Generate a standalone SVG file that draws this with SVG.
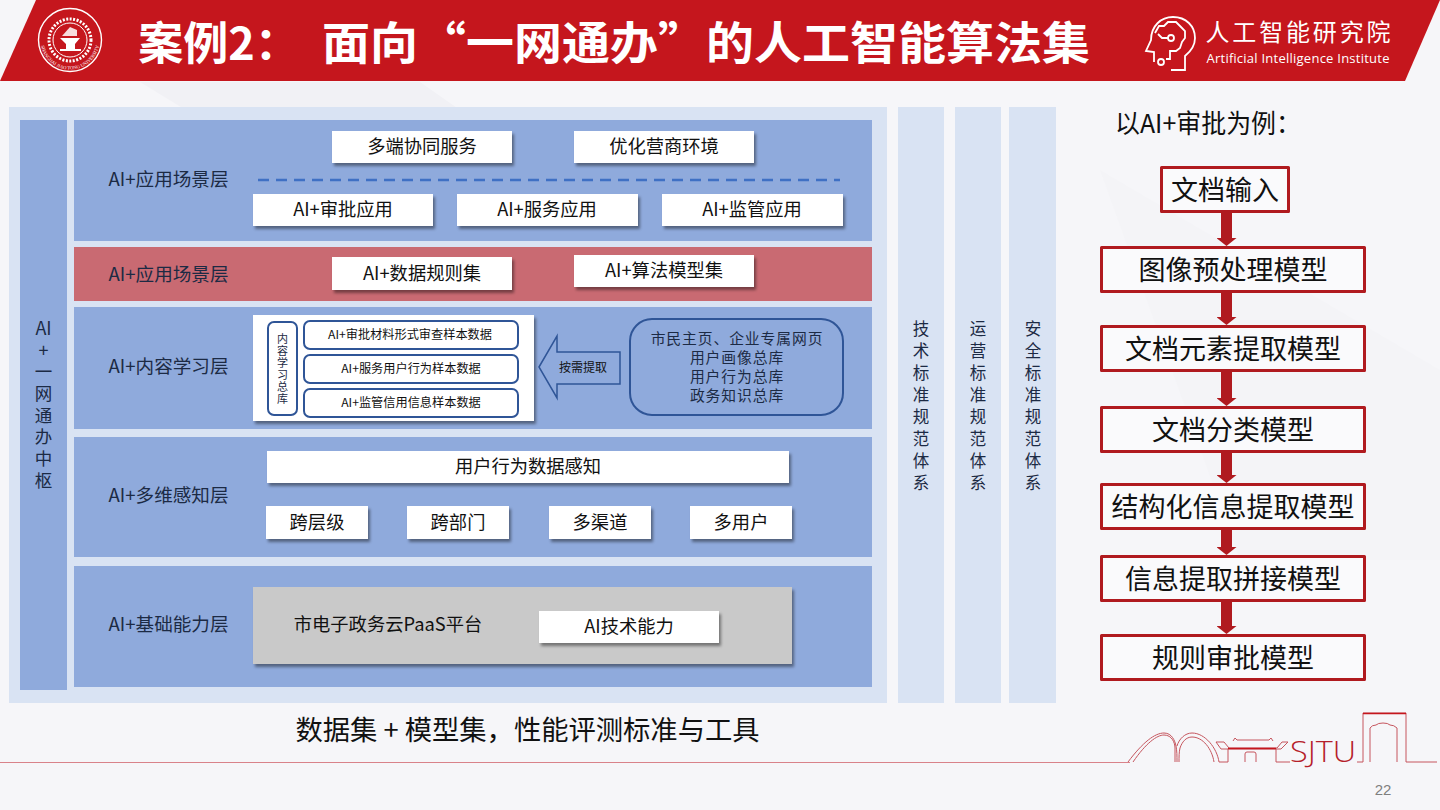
<svg xmlns="http://www.w3.org/2000/svg" width="1440" height="810" viewBox="0 0 1440 810">
<defs>
<filter id="sh" x="-10%" y="-20%" width="120%" height="150%"><feDropShadow dx="2" dy="3" stdDeviation="1.5" flood-color="#000" flood-opacity="0.42"/></filter>
<marker id="ah" markerUnits="userSpaceOnUse" markerWidth="8" markerHeight="20" refX="0" refY="10" orient="auto" viewBox="0 0 8 20"><path d="M0 0L8 10L0 20Z" fill="#b01a1f"/></marker>
<path id="sealarc" d="M40.950 34.900A29.500 29.500 0 1 0 99.050 34.900"/>
</defs>
<style>
text{font-family:"Noto Sans CJK SC","Liberation Sans",sans-serif;fill:#111;text-anchor:middle}
.layer{fill:#8faadc}
.col{fill:#d9e3f3}
.box{fill:#fff;filter:url(#sh)}
.t17{font-size:18.300px}
.lab{font-size:18.600px;fill:#1c2a44}
.t12{font-size:12.200px}
.t15{font-size:14.800px;letter-spacing:.9px;fill:#1c2a44}
.side{font-size:16.500px;fill:#1c2a44;writing-mode:vertical-rl;text-orientation:upright;letter-spacing:5.500px}
.flow rect{fill:#fafafc;stroke:#b01a1f;stroke-width:3;stroke-linejoin:round}
.flow text{font-size:27px}
.inner{fill:#fff;stroke:#2f5597;stroke-width:2}
.sky{fill:none;stroke:#b5202a;stroke-width:1;opacity:.75}
.hdr{fill:#fff;font-weight:700;font-size:45px}
</style>
<rect width="1440" height="810" fill="#f6f6f9"/>
<polygon points="140,82 420,82 560,180 300,180" fill="#f1f1f5"/>
<polygon points="1100,170 1440,370 1440,560 1240,560" fill="#f4f4f7"/>
<g id="header">
<polygon points="36,0 1440,0 1405,81 0,81" fill="#c5161d"/>
<g id="seal" fill="none" stroke="#fff">
<circle cx="70" cy="40" r="31.500" stroke-width="1.400"/>
<circle cx="70" cy="40" r="21" stroke-width="3" stroke-dasharray="2 1.500"/>
<circle cx="70" cy="40" r="17" fill="#c5161d" stroke-width="1"/>
<path d="M60 38h20l-5 6v5h6v2H60v-2h6v-5z" fill="#fff" stroke="none"/>
<path d="M62 36l8-9 7 3v6z" fill="#fff" stroke="none" opacity=".85"/>
</g>
<text style="font-size:4.800px;fill:#fff;font-family:'Liberation Serif',serif"><textPath href="#sealarc" startOffset="50%">SHANGHAI JIAO TONG UNIVERSITY</textPath></text>
<text class="hdr" x="219" y="60">案例2：</text>
<text class="hdr" x="706" y="60" textLength="768" lengthAdjust="spacingAndGlyphs">面向“一网通办”的人工智能算法集</text>
<g id="ai-logo" fill="none" stroke="#fff" stroke-width="1.800">
<path d="M1154 62v-10l-8-1 5-11c0-14 10-23 22-23 13 0 22 9 22 21 0 9-5 14-10 18v14h-14"/>
<circle cx="1171" cy="38" r="3"/><circle cx="1161" cy="62" r="3"/>
<path d="M1155 33l4-7h5l4-4h8l5 5 4 4v7l-3 4-2 6-4 3h-6v8h-4M1168 38h-6l-4-4"/>
</g>
<text x="1298" y="41" style="fill:#fff;font-size:24px" textLength="185">人工智能研究院</text>
<text x="1298" y="63" style="font-family:'Open Sans','Liberation Sans',sans-serif;fill:#fff;font-size:13px" textLength="183">Artificial Intelligence Institute</text>
</g>
<rect id="panel" class="col" x="9" y="107" width="878" height="596"/>
<g id="columns">
<rect class="col" x="898" y="107" width="46" height="596"/>
<rect class="col" x="955" y="107" width="46" height="596"/>
<rect class="col" x="1009" y="107" width="47" height="596"/>
<text class="side" x="921" y="320" style="text-anchor:start">技术标准规范体系</text>
<text class="side" x="978" y="320" style="text-anchor:start">运营标准规范体系</text>
<text class="side" x="1033" y="320" style="text-anchor:start">安全标准规范体系</text>
</g>
<g id="hub">
<rect class="layer" x="20" y="120" width="47" height="570"/>
<text x="43.500" y="335" style="font-size:18px;fill:#1c2a44">AI</text>
<text x="43.500" y="357" style="font-size:18px;fill:#1c2a44">+</text>
<text class="side" x="43.500" y="363" style="text-anchor:start;font-size:17.500px;letter-spacing:4.200px">一网通办中枢</text>
</g>
<g id="layer-app">
<rect class="layer" x="74" y="120" width="798" height="121"/>
<text class="lab" x="168.500" y="186">AI+应用场景层</text>
<rect class="box" x="332" y="131" width="180" height="32"/><text class="t17" x="422" y="153">多端协同服务</text>
<rect class="box" x="574" y="131" width="180" height="32"/><text class="t17" x="664" y="153">优化营商环境</text>
<line x1="258" y1="180" x2="840" y2="180" stroke="#3f70c4" stroke-width="2.500" stroke-dasharray="11 7"/>
<rect class="box" x="253" y="194" width="180" height="32"/><text class="t17" x="343" y="216">AI+审批应用</text>
<rect class="box" x="457" y="194" width="181" height="32"/><text class="t17" x="547" y="216">AI+服务应用</text>
<rect class="box" x="662" y="194" width="181" height="32"/><text class="t17" x="752" y="216">AI+监管应用</text>
</g>
<g id="layer-rule">
<rect x="74" y="247" width="798" height="54" fill="#c96a72"/>
<text class="lab" x="168.500" y="281">AI+应用场景层</text>
<rect class="box" x="332" y="257" width="180" height="33"/><text class="t17" x="422" y="280">AI+数据规则集</text>
<rect class="box" x="574" y="255" width="180" height="32"/><text class="t17" x="664" y="277">AI+算法模型集</text>
</g>
<g id="layer-content">
<rect class="layer" x="74" y="307" width="798" height="122"/>
<text class="lab" x="168.500" y="373">AI+内容学习层</text>
<rect class="box" x="253" y="315" width="281" height="106"/>
<rect class="inner" x="268" y="322" width="29" height="93" rx="6"/>
<text class="side" x="282.500" y="333" style="text-anchor:start;font-size:11px;letter-spacing:1px">内容学习总库</text>
<rect class="inner" x="304" y="321" width="214" height="28" rx="6"/><text class="t12" x="410" y="339">AI+审批材料形式审查样本数据</text>
<rect class="inner" x="304" y="355" width="214" height="28" rx="6"/><text class="t12" x="411" y="373">AI+服务用户行为样本数据</text>
<rect class="inner" x="304" y="389" width="214" height="28" rx="6"/><text class="t12" x="411" y="407">AI+监管信用信息样本数据</text>
<polygon points="539,367 557,336 557,352 620,352 620,384 557,384 557,398" fill="#8faadc" stroke="#2f5597" stroke-width="1.500"/>
<text x="583" y="372" style="font-size:12px">按需提取</text>
<rect x="630" y="319" width="213" height="96" rx="22" fill="#8faadc" stroke="#2f5597" stroke-width="2"/>
<text class="t15" x="737" y="344">市民主页、企业专属网页</text>
<text class="t15" x="737" y="363">用户画像总库</text>
<text class="t15" x="737" y="382">用户行为总库</text>
<text class="t15" x="737" y="401">政务知识总库</text>
</g>
<g id="layer-sense">
<rect class="layer" x="74" y="437" width="798" height="120"/>
<text class="lab" x="168.500" y="502">AI+多维感知层</text>
<rect class="box" x="267" y="451" width="522" height="32"/><text class="t17" x="528" y="473">用户行为数据感知</text>
<rect class="box" x="266" y="506" width="102" height="33"/><text class="t17" x="317" y="529">跨层级</text>
<rect class="box" x="407" y="506" width="102" height="33"/><text class="t17" x="458" y="529">跨部门</text>
<rect class="box" x="549" y="506" width="102" height="33"/><text class="t17" x="600" y="529">多渠道</text>
<rect class="box" x="690" y="506" width="102" height="33"/><text class="t17" x="741" y="529">多用户</text>
</g>
<g id="layer-base">
<rect class="layer" x="74" y="566" width="798" height="121"/>
<text class="lab" x="168.500" y="631">AI+基础能力层</text>
<rect x="253" y="587" width="539" height="77" fill="#c9c9c9" style="filter:url(#sh)"/>
<text class="t17" x="388" y="631">市电子政务云PaaS平台</text>
<rect class="box" x="539" y="611" width="180" height="32"/><text class="t17" x="629" y="633">AI技术能力</text>
</g>
<text id="title-right" x="1208" y="133" style="font-size:26px" textLength="186" lengthAdjust="spacingAndGlyphs">以AI+审批为例：</text>
<g id="connectors" stroke="#b01a1f" stroke-width="11" fill="none">
<line x1="1226.500" y1="211" x2="1226.500" y2="238" marker-end="url(#ah)"/>
<line x1="1226.500" y1="291" x2="1226.500" y2="317" marker-end="url(#ah)"/>
<line x1="1226.500" y1="371" x2="1226.500" y2="398" marker-end="url(#ah)"/>
<line x1="1226.500" y1="451" x2="1226.500" y2="475" marker-end="url(#ah)"/>
<line x1="1226.500" y1="528" x2="1226.500" y2="547" marker-end="url(#ah)"/>
<line x1="1226.500" y1="600" x2="1226.500" y2="626" marker-end="url(#ah)"/>
</g>
<g id="flow-1" class="flow"><rect x="1161.500" y="167.500" width="127" height="44"/><text x="1225" y="200">文档输入</text></g>
<g id="flow-2" class="flow"><rect x="1101.500" y="247.500" width="263" height="44"/><text x="1233" y="280">图像预处理模型</text></g>
<g id="flow-3" class="flow"><rect x="1101.500" y="326.500" width="263" height="44"/><text x="1233" y="359">文档元素提取模型</text></g>
<g id="flow-4" class="flow"><rect x="1101.500" y="407.500" width="263" height="44"/><text x="1233" y="440">文档分类模型</text></g>
<g id="flow-5" class="flow"><rect x="1101.500" y="484.500" width="263" height="44"/><text x="1233" y="517">结构化信息提取模型</text></g>
<g id="flow-6" class="flow"><rect x="1101.500" y="556.500" width="263" height="44"/><text x="1233" y="589">信息提取拼接模型</text></g>
<g id="flow-7" class="flow"><rect x="1101.500" y="635.500" width="263" height="44"/><text x="1233" y="668">规则审批模型</text></g>
<text id="caption" x="527.500" y="740" style="font-size:27.300px">数据集 + 模型集，性能评测标准与工具</text>
<g id="footer">
<line x1="0" y1="762.500" x2="1130" y2="762.500" stroke="#d9828a" stroke-width="1"/>
<g class="sky">
<path d="M1128 762c15-20 27-29 36-29 8 0 11 8 12 13 1 5 1 10 1 16M1133 762c13-19 24-27 31-27 8 0 11 8 11 13 0 5 0 9 0 14"/>
<path d="M1177 746c2-7 8-13 15-13 13 0 25 15 27 29M1179 762c0-5 0-10 1-14 2-6 6-11 12-11 11 0 20 12 22 25"/>
<path d="M1216 742h8l5 6h48l5-6h6l-7 7h-60zM1233 741l2-3 2 2h32l2-2 2 3"/>
<path d="M1228 749v13h-9M1276 749v13h14"/>
<path d="M1245 762v-8q0-2 2-2h7q2 0 2 2v8"/>
<path d="M1357 762h6v-49h43v49h31M1370 762v-34q2-3 6-3 2-2 7-2t7 2q4 0 7 3v34"/>
</g>
<line x1="1228" y1="748.500" x2="1276" y2="748.500" stroke="#c5161d" stroke-width="1.500"/>
<line x1="1363" y1="713.500" x2="1406" y2="713.500" stroke="#c5161d" stroke-width="1.500"/>
<text x="1323" y="762" style="font-family:'Open Sans','Liberation Sans',sans-serif;font-size:29px;font-weight:300;fill:#b5202a" textLength="66" lengthAdjust="spacingAndGlyphs">SJTU</text>
<text x="1383" y="795" style="font-family:'Liberation Sans',sans-serif;font-size:15px;fill:#7f7f7f">22</text>
</g>
</svg>
